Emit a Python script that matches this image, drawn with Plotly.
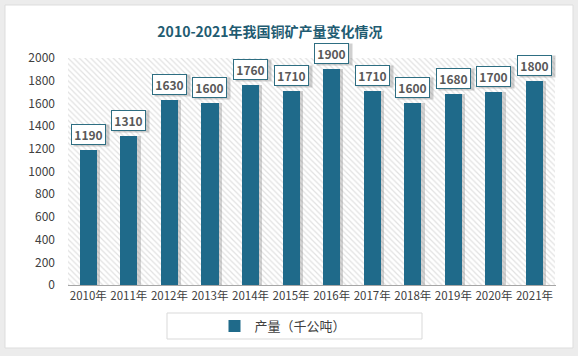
import plotly.graph_objects as go

years = ["2010年", "2011年", "2012年", "2013年", "2014年", "2015年",
         "2016年", "2017年", "2018年", "2019年", "2020年", "2021年"]
output = [1190, 1310, 1630, 1600, 1760, 1710, 1900, 1710, 1600, 1680, 1700, 1800]
y_ticks = [0, 200, 400, 600, 800, 1000, 1200, 1400, 1600, 1800, 2000]
series_name = "产量（千公吨）"
title_text = "2010-2021年我国铜矿产量变化情况"

BAR = "#1F6A8A"
FONT = "Noto Sans CJK SC"
W, H = 578, 356
ML, MR, MT, MB = 68, 22, 58, 71
PW, PH = W - ML - MR, H - MT - MB


def px(x):
    return (x - ML) / PW


def py(y):
    return 1 - (y - MT) / PH


fig = go.Figure()

# hatched plot background
fig.add_trace(go.Bar(
    x=years, y=[max(y_ticks)] * len(years), width=1, showlegend=False,
    hoverinfo="skip",
    marker=dict(color="white", line=dict(width=0),
                pattern=dict(shape="\\", fgcolor="#c4c4c4", bgcolor="white",
                             size=4, solidity=0.3)),
))
# bar shadows
fig.add_trace(go.Bar(
    x=years, y=output, width=0.42, offset=-0.21 + 0.08, showlegend=False,
    hoverinfo="skip",
    marker=dict(color="rgba(110,110,110,0.3)", line=dict(width=0)),
))
# main bars
fig.add_trace(go.Bar(
    x=years, y=output, width=0.42, offset=-0.21, name=series_name,
    marker=dict(color=BAR, line=dict(width=0)),
))

# value label boxes
for yr, v in zip(years, output):
    fig.add_annotation(x=yr, y=v, xref="x", yref="y", text="", showarrow=False,
                       yanchor="bottom", yshift=3, xshift=3, width=31, height=17,
                       bgcolor="rgba(100,100,100,0.3)", borderpad=2)
    fig.add_annotation(x=yr, y=v, xref="x", yref="y", text=f"<b>{v}</b>",
                       showarrow=False, yanchor="bottom", yshift=5,
                       width=31, height=17, bgcolor="white",
                       bordercolor="#2E6E82", borderwidth=1, borderpad=1,
                       font=dict(family=FONT, size=12, color="#595959"))

shapes = [
    dict(type="rect", xref="paper", yref="paper", layer="below",
         x0=px(5), x1=px(573), y0=py(348), y1=py(5),
         fillcolor="white", line=dict(color="#dddddd", width=1)),
    dict(type="rect", xref="paper", yref="paper", layer="below",
         x0=px(167), x1=px(422), y0=py(339), y1=py(313),
         fillcolor="white", line=dict(color="#d9d9d9", width=1)),
]

fig.update_layout(
    width=W, height=H,
    margin=dict(l=ML, r=MR, t=MT, b=MB, autoexpand=False),
    paper_bgcolor="#ececec", plot_bgcolor="white",
    barmode="overlay", bargap=0,
    shapes=shapes,
    title=dict(text=f"<b>{title_text}</b>", xref="container", yref="container",
               x=270 / W, y=1 - 32 / H, xanchor="center", yanchor="middle",
               font=dict(family=FONT, size=14, color="#1F5C72")),
    xaxis=dict(type="category", showgrid=False, showline=True,
               linecolor="#a6a6a6", linewidth=1, ticks="", tickangle=0,
               automargin=False,
               tickfont=dict(family=FONT, size=11.5, color="#404040")),
    yaxis=dict(range=[0, 2000], tickvals=y_ticks, showgrid=False,
               zeroline=False, showline=False, ticks="", ticklabelstandoff=12,
               automargin=False,
               tickfont=dict(family=FONT, size=12, color="#404040")),
    legend=dict(orientation="h", xref="container", yref="container",
                x=283 / W, y=1 - 326 / H, xanchor="center",
                yanchor="middle", bgcolor="rgba(0,0,0,0)",
                itemwidth=30,
                font=dict(family=FONT, size=13, color="#404040")),
)

fig.write_html("out.html", config={"displayModeBar": False},
               post_script="document.body.style.margin='0';document.body.style.padding='0';")
